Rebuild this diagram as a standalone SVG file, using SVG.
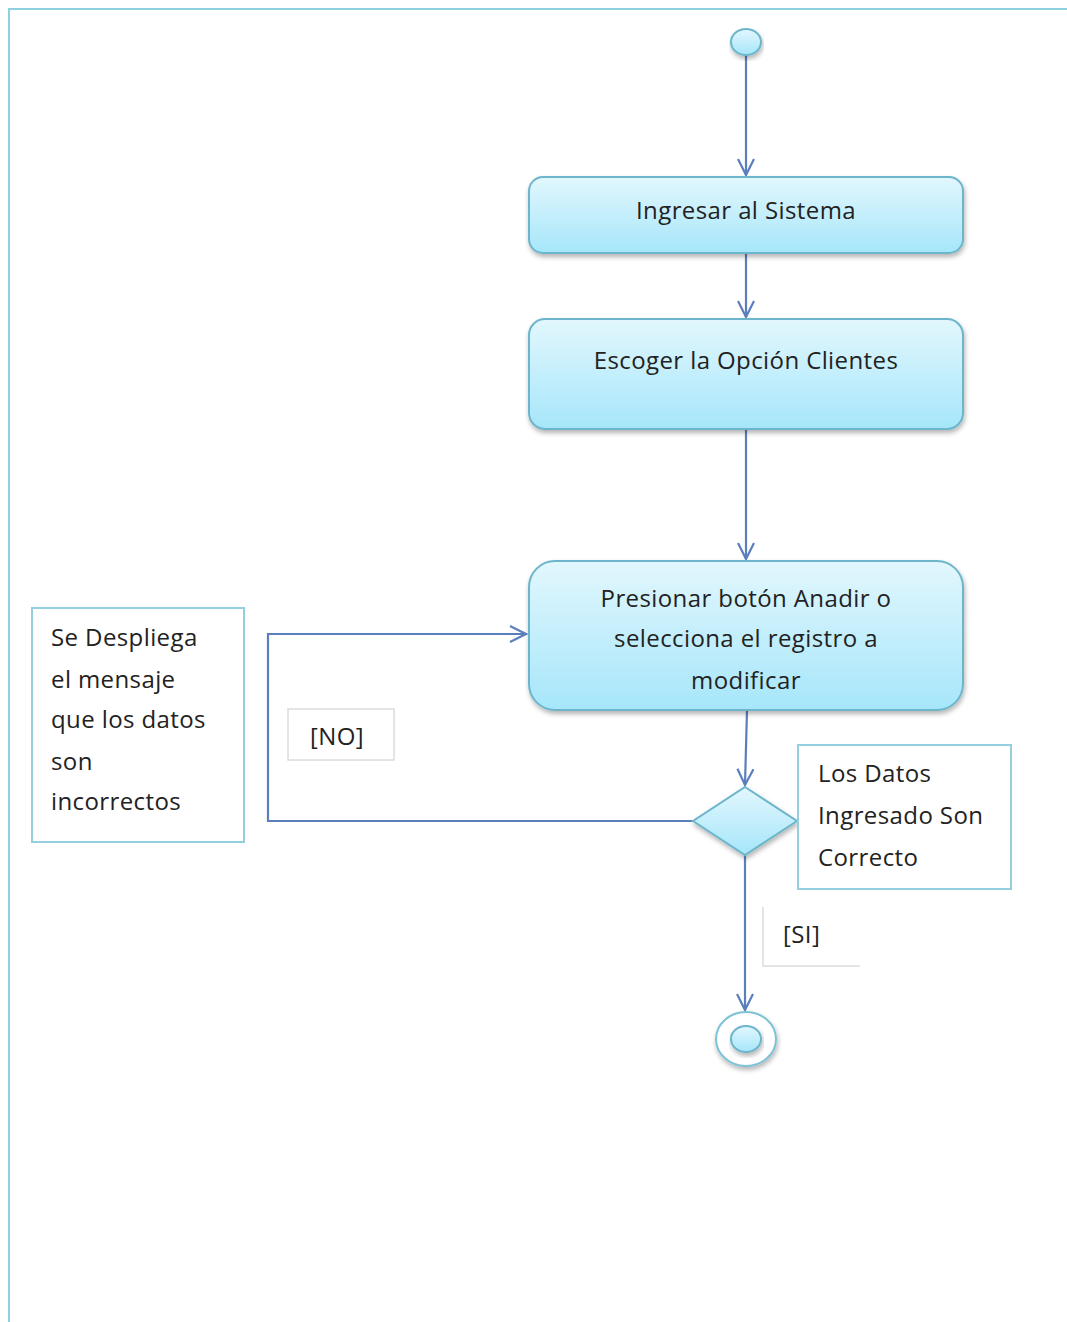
<svg xmlns="http://www.w3.org/2000/svg" width="1067" height="1322" viewBox="0 0 1067 1322">
  <style>
    .act { fill: url(#actFill); stroke: #6db5cb; stroke-width: 2; filter: url(#shadow); }
    .lbl { font-family: "Open Sans", "Noto Sans", sans-serif; font-size: 24px; letter-spacing: 0.4px; fill: #222; }
    .flow { fill: none; stroke: #5b7fbd; stroke-width: 2.2; }
    .note { fill: #fff; stroke: #93cfdc; stroke-width: 2; }
    .guard { fill: #fff; stroke: #dcdcdc; stroke-width: 1.5; }
  </style>
  <defs>
    <linearGradient id="actFill" x1="0" y1="0" x2="0" y2="1">
      <stop offset="0" stop-color="#e2f7fd"/>
      <stop offset="1" stop-color="#a6e6fa"/>
    </linearGradient>
    <filter id="shadow" x="-10%" y="-10%" width="120%" height="130%">
      <feGaussianBlur in="SourceAlpha" stdDeviation="2.5"/>
      <feOffset dx="1" dy="3" result="b"/>
      <feComponentTransfer><feFuncA type="linear" slope="0.3"/></feComponentTransfer>
      <feMerge><feMergeNode/><feMergeNode in="SourceGraphic"/></feMerge>
    </filter>
    <marker id="open" viewBox="0 0 20 20" refX="18" refY="10" markerWidth="20" markerHeight="20" markerUnits="userSpaceOnUse" orient="auto">
      <path d="M2,2 L18,10 L2,18" fill="none" stroke="#5b7fbd" stroke-width="2.2"/>
    </marker>
  </defs>

  <!-- frame -->
  <path d="M9,1322 V9 H1067" fill="none" stroke="#8fd0de" stroke-width="2"/>

  <g id="connectors">
    <line class="flow" x1="746" y1="55" x2="746" y2="175" marker-end="url(#open)"/>
    <line class="flow" x1="746" y1="253" x2="746" y2="317" marker-end="url(#open)"/>
    <line class="flow" x1="746" y1="429" x2="746" y2="559" marker-end="url(#open)"/>
    <line class="flow" x1="747" y1="710" x2="745" y2="785" marker-end="url(#open)"/>
    <polyline class="flow" points="693,821 268,821 268,634 526,634" marker-end="url(#open)"/>
    <line class="flow" x1="745" y1="855" x2="745" y2="1010" marker-end="url(#open)"/>
  </g>

  <g id="start">
    <ellipse cx="746" cy="42" rx="15" ry="13" class="act"/>
  </g>

  <g id="ingresar">
    <rect x="529" y="177" width="434" height="76" rx="14" class="act"/>
    <text class="lbl" x="746" y="219" text-anchor="middle">Ingresar al Sistema</text>
  </g>

  <g id="escoger">
    <rect x="529" y="319" width="434" height="110" rx="16" class="act"/>
    <text class="lbl" x="746" y="369" text-anchor="middle">Escoger la Opción Clientes</text>
  </g>

  <g id="presionar">
    <rect x="529" y="561" width="434" height="149" rx="26" class="act"/>
    <text class="lbl" x="746" y="607" text-anchor="middle">Presionar botón Anadir o</text>
    <text class="lbl" x="746" y="647" text-anchor="middle">selecciona el registro a</text>
    <text class="lbl" x="746" y="689" text-anchor="middle">modificar</text>
  </g>

  <g id="decision">
    <polygon points="745,787 797,821 745,855 693,821" class="act"/>
  </g>

  <g id="end">
    <ellipse cx="746" cy="1039" rx="30" ry="27" fill="#fff" stroke="#7cc3d5" stroke-width="2" filter="url(#shadow)"/>
    <ellipse cx="746" cy="1039" rx="15" ry="13" class="act"/>
  </g>

  <g id="note-datos">
    <rect x="798" y="745" width="213" height="144" class="note"/>
    <text class="lbl" x="818" y="782">Los Datos</text>
    <text class="lbl" x="818" y="824">Ingresado Son</text>
    <text class="lbl" x="818" y="866">Correcto</text>
  </g>

  <g id="note-mensaje">
    <rect x="32" y="608" width="212" height="234" class="note"/>
    <text class="lbl" x="51" y="646">Se Despliega</text>
    <text class="lbl" x="51" y="688">el mensaje</text>
    <text class="lbl" x="51" y="728">que los datos</text>
    <text class="lbl" x="51" y="770">son</text>
    <text class="lbl" x="51" y="810">incorrectos</text>
  </g>

  <g id="guard-no">
    <rect x="288" y="709" width="106" height="51" class="guard"/>
    <text class="lbl" x="337" y="745" text-anchor="middle" fill="#444">[NO]</text>
  </g>

  <g id="guard-si">
    <path d="M763,907 V966 H860" class="guard" fill="none"/>
    <text class="lbl" x="783" y="943" fill="#444">[SI]</text>
  </g>
</svg>
